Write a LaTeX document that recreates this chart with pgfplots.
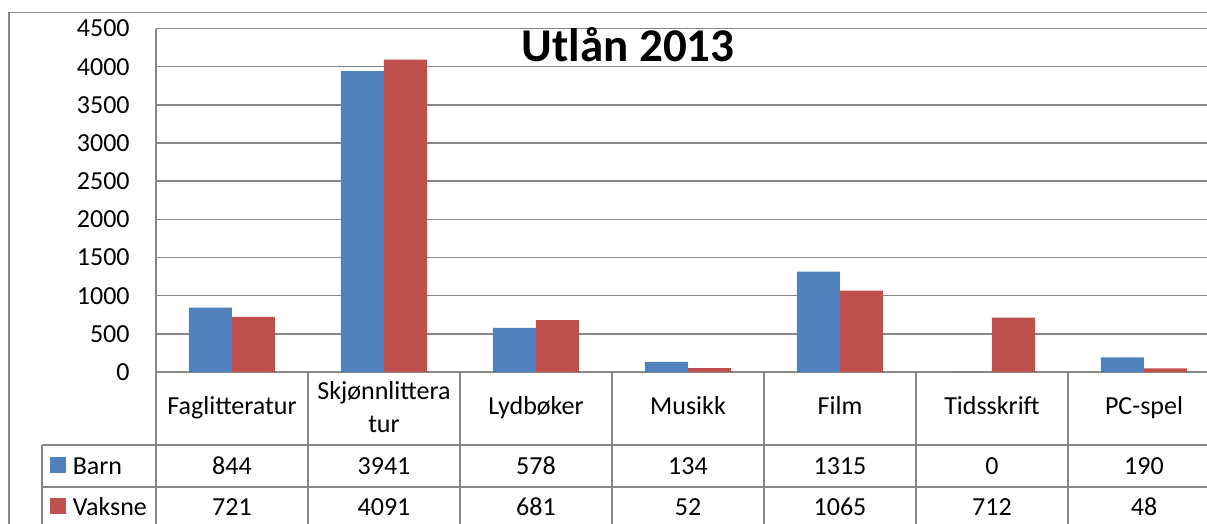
\documentclass[border=0pt]{standalone}
\usepackage{fontspec}
\setmainfont{Carlito}
\usepackage{pgfplots}
\pgfplotsset{compat=1.18}
\definecolor{barn}{HTML}{4F81BD}
\definecolor{vaksne}{HTML}{C0504D}
\definecolor{gridgray}{RGB}{134,134,134}
\begin{document}
\begin{tikzpicture}
\useasboundingbox (0,0) rectangle (603.5pt,-262pt);
\clip (0,0) rectangle (603.5pt,-262pt);
\begin{axis}[
  at={(78pt,-186pt)}, anchor=south west,
  scale only axis, width=532pt, height=171.75pt,
  xmin=-0.5, xmax=6.5, ymin=0, ymax=4500,
  ytick={0,500,...,4500},
  xtick={0,...,6},
  xticklabels={},
  scaled y ticks=false,
  /pgf/number format/1000 sep={},
  /pgf/number format/assume math mode=true,
  ymajorgrids, grid style={gridgray, line width=0.75pt},
  axis lines*=left,
  axis line style={gridgray, line width=0.75pt, -},
  major tick length=0pt,
  ticklabel style={font=\fontsize{13}{16}\selectfont, text=black},
  yticklabel style={anchor=east, inner sep=0pt, xshift=-13pt},
  ybar=0pt, bar width=21.5pt,
  clip=false,
]
\addplot[fill=barn, draw=none] coordinates {(0,844)(1,3941)(2,578)(3,134)(4,1315)(5,0)(6,190)};
\addplot[fill=vaksne, draw=none] coordinates {(0,721)(1,4091)(2,681)(3,52)(4,1065)(5,712)(6,48)};
\end{axis}
\begin{scope}[x=0.5pt, y=-0.5pt, line width=0.75pt]
  \draw[gridgray] (156,372) -- (156,540);
  \foreach \k in {1,...,7} {\draw[gridgray] ({156+152*\k},372) -- ({156+152*\k},540);}
  \draw[gridgray] (42,445) -- (1230,445);
  \draw[gridgray] (42,487) -- (1230,487);
  \draw[gridgray] (42,445) -- (42,540);
  \draw[gridgray] (9,540) -- (9,12.5) -- (1230,12.5);
  \fill[barn] (50,457) rectangle (66,473);
  \fill[vaksne] (50,498) rectangle (66,514);
  \tikzset{cell/.style={anchor=base, inner sep=0pt, font=\fontsize{13}{16}\selectfont}}
  \node[cell, anchor=base west] at (72,474) {Barn};
  \node[cell, anchor=base west] at (72,516) {Vaksne};
  \foreach \c [count=\i from 0] in {Faglitteratur,Lydbøker,Musikk,Film,Tidsskrift,PC-spel}
    {\pgfmathtruncatemacro{\j}{\i>0 ? \i+1 : 0}
     \node[cell] at ({232+152*\j},415) {\c};}
  \node[cell] at (384,400) {Skjønnlittera};
  \node[cell] at (384,432) {tur};
  \foreach \v [count=\i from 0] in {844,3941,578,134,1315,0,190}
    {\node[cell] at ({232+152*\i},474) {\v};}
  \foreach \v [count=\i from 0] in {721,4091,681,52,1065,712,48}
    {\node[cell] at ({232+152*\i},516) {\v};}
  \node[anchor=base, inner sep=0pt, font=\bfseries\fontsize{23.5}{28}\selectfont] at (628,62) {Utlån 2013};
\end{scope}
\end{tikzpicture}
\end{document}
